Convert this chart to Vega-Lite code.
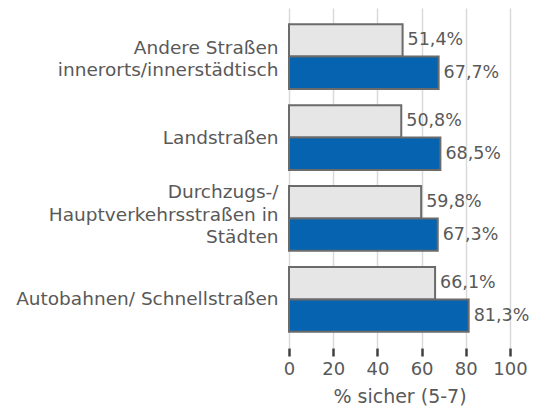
{
  "$schema": "https://vega.github.io/schema/vega-lite/v6.json",
  "autosize": {"type": "none"},
  "padding": {"left": 289, "top": 8, "right": 28, "bottom": 61},
  "width": 221,
  "height": 340,
  "background": "white",
  "config": {
    "view": {"stroke": null},
    "font": "DejaVu Sans",
    "locale": {"number": {"decimal": ",", "thousands": ".", "grouping": [3], "currency": ["", " €"]}}
  },
  "data": {
    "values": [
      {"kategorie": "Andere Straßen |innerorts/innerstädtisch", "serie": "Serie 1", "wert": 51.4},
      {"kategorie": "Andere Straßen |innerorts/innerstädtisch", "serie": "Serie 2", "wert": 67.7},
      {"kategorie": "Landstraßen", "serie": "Serie 1", "wert": 50.8},
      {"kategorie": "Landstraßen", "serie": "Serie 2", "wert": 68.5},
      {"kategorie": "Durchzugs-/|Hauptverkehrsstraßen in|Städten", "serie": "Serie 1", "wert": 59.8},
      {"kategorie": "Durchzugs-/|Hauptverkehrsstraßen in|Städten", "serie": "Serie 2", "wert": 67.3},
      {"kategorie": "Autobahnen/ Schnellstraßen", "serie": "Serie 1", "wert": 66.1},
      {"kategorie": "Autobahnen/ Schnellstraßen", "serie": "Serie 2", "wert": 81.3}
    ]
  },
  "transform": [
    {"calculate": "format(datum.wert, '.1f') + '%'", "as": "label"}
  ],
  "encoding": {
    "y": {
      "field": "kategorie",
      "type": "nominal",
      "sort": null,
      "scale": {"paddingInner": 0.2, "paddingOuter": 0.2},
      "axis": {
        "title": null,
        "domain": false,
        "ticks": false,
        "labelExpr": "split(datum.label, '|')",
        "labelFontSize": 18.5,
        "labelColor": "#595959",
        "labelLineHeight": 22.5,
        "labelPadding": 11,
        "labelLimit": 300,
        "labelOffset": {
          "condition": [
            {"test": "length(split(datum.value, '|')) == 3", "value": -26},
            {"test": "length(split(datum.value, '|')) == 2", "value": -9}
          ],
          "value": 0
        }
      }
    },
    "yOffset": {"field": "serie", "type": "nominal", "sort": ["Serie 1", "Serie 2"]},
    "x": {
      "field": "wert",
      "type": "quantitative",
      "scale": {"domain": [0, 100], "nice": false},
      "axis": {
        "values": [0, 20, 40, 60, 80, 100],
        "title": "% sicher (5-7)",
        "titleFontSize": 19,
        "titleFontWeight": "normal",
        "titleColor": "#595959",
        "titlePadding": 9,
        "labelFontSize": 18,
        "labelColor": "#595959",
        "labelPadding": 4,
        "labelFlush": false,
        "labelOverlap": false,
        "domain": false,
        "tickColor": "#404040",
        "tickWidth": 2.5,
        "tickSize": 8,
        "gridColor": "#d9d9d9",
        "gridWidth": 1.5
      }
    }
  },
  "layer": [
    {
      "mark": {"type": "bar", "stroke": "#6b6b6b", "strokeWidth": 2},
      "encoding": {
        "color": {
          "field": "serie",
          "type": "nominal",
          "scale": {"domain": ["Serie 1", "Serie 2"], "range": ["#e6e6e6", "#0563af"]},
          "legend": null
        }
      }
    },
    {
      "mark": {"type": "text", "align": "left", "baseline": "middle", "dx": 5, "fontSize": 17.5, "color": "#595959"},
      "encoding": {"text": {"field": "label"}}
    }
  ]
}
